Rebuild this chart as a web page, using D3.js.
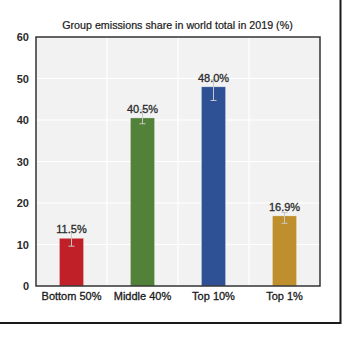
<!DOCTYPE html>
<html><head><meta charset="utf-8">
<script src="https://cdn.jsdelivr.net/npm/d3@7"></script>
<style>body{margin:0;background:#fff;} text{font-family:"Liberation Sans",Arial,sans-serif;}</style>
</head><body><svg id="c" width="349" height="344"></svg>
<script>
const categories = ["Bottom 50%", "Middle 40%", "Top 10%", "Top 1%"];
const shares = [11.5, 40.5, 48.0, 16.9];
const errLow = [9.6, 39.1, 44.7, 15.1];
const errHigh = [12.8, 42.5, 49.7, 17.7];
const colors = ["#c02028", "#52813a", "#2e5196", "#bf8f2e"];
const yTicks = [0, 10, 20, 30, 40, 50, 60];
const title = "Group emissions share in world total in 2019 (%)";

const svg = d3.select("#c");
const m = {l: 36, r: 320, t: 37, b: 286};
const x = d3.scaleBand().domain(categories).range([m.l, m.r]).paddingInner(0.66).paddingOuter(0.33);
const xb = d3.scaleBand().domain(categories).range([m.l, m.r]);
const y = d3.scaleLinear().domain([0, 60]).range([m.b, m.t]);

svg.append("path").attr("d", `M340.5,0 V323 H0`).attr("fill","none").attr("stroke","#1a1a1a").attr("stroke-width",2);

svg.append("rect").attr("x", m.l).attr("y", m.t).attr("width", m.r-m.l).attr("height", m.b-m.t).attr("fill","#f2f2f2");

svg.append("g").selectAll("line").data(yTicks.slice(1,-1)).join("line")
  .attr("x1", m.l).attr("x2", m.r).attr("y1", d=>y(d)).attr("y2", d=>y(d))
  .attr("stroke","#fff").attr("stroke-width",1.2);
svg.append("g").selectAll("line").data(categories.slice(1)).join("line")
  .attr("x1", d=>xb(d)).attr("x2", d=>xb(d)).attr("y1", m.t).attr("y2", m.b)
  .attr("stroke","#fff").attr("stroke-width",1.2);

svg.append("g").selectAll("rect").data(categories).join("rect")
  .attr("x", d=>x(d)).attr("width", x.bandwidth())
  .attr("y", (d,i)=>y(shares[i])).attr("height", (d,i)=>y(0)-y(shares[i]))
  .attr("fill",(d,i)=>colors[i]).attr("stroke","rgba(255,255,255,0.5)").attr("stroke-width",0.6);

const eg = svg.append("g").attr("stroke","#c8c8c8").attr("stroke-width",1);
categories.forEach((c,i)=>{
  const cx = x(c)+x.bandwidth()/2;
  eg.append("line").attr("x1",cx).attr("x2",cx).attr("y1",y(errLow[i])).attr("y2",y(errHigh[i]));
  eg.append("line").attr("x1",cx-3).attr("x2",cx+3).attr("y1",y(errLow[i])).attr("y2",y(errLow[i]));
  eg.append("line").attr("x1",cx-3).attr("x2",cx+3).attr("y1",y(errHigh[i])).attr("y2",y(errHigh[i]));
});

svg.append("g").selectAll("text").data(categories).join("text")
  .attr("x", d=>x(d)+x.bandwidth()/2).attr("y",(d,i)=>y(shares[i])-5)
  .attr("text-anchor","middle").attr("font-size",11).attr("fill","#2b2b2b")
  .attr("stroke","#2b2b2b").attr("stroke-width",0.3)
  .text((d,i)=>shares[i].toFixed(1)+"%");

svg.append("rect").attr("x", m.l).attr("y", m.t).attr("width", m.r-m.l).attr("height", m.b-m.t)
  .attr("fill","none").attr("stroke","#333").attr("stroke-width",1.5);

const ya = svg.append("g").attr("transform",`translate(${m.l},0)`)
  .call(d3.axisLeft(y).tickValues(yTicks).tickSize(0).tickPadding(7));
ya.select(".domain").remove();
ya.selectAll("text").attr("font-size",11).attr("font-weight","bold").attr("fill","#2b2b2b")
  .attr("font-family","'Liberation Sans',Arial,sans-serif");

const xa = svg.append("g").attr("transform",`translate(0,${m.b})`)
  .call(d3.axisBottom(xb).tickSize(0).tickPadding(6));
xa.select(".domain").remove();
xa.selectAll("text").attr("font-size",11).attr("fill","#1a1a1a")
  .attr("stroke","#1a1a1a").attr("stroke-width",0.3)
  .attr("font-family","'Liberation Sans',Arial,sans-serif");

svg.append("text").attr("x",177.5).attr("y",29).attr("text-anchor","middle")
  .attr("font-size",10.7).attr("fill","#1a1a1a").attr("stroke","#1a1a1a").attr("stroke-width",0.2).text(title);
</script></body></html>
